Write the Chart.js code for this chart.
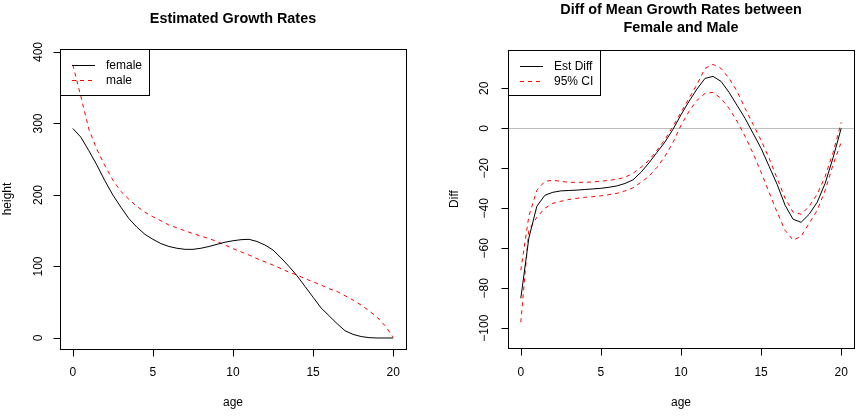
<!DOCTYPE html>
<html>
<head>
<meta charset="utf-8">
<script src="https://cdn.jsdelivr.net/npm/chart.js@4/dist/chart.umd.min.js"></script>
<style>
  body { margin: 0; background: #fff; }
  .wrap { position: relative; width: 864px; height: 420px; }
  canvas { position: absolute; top: 0; }
</style>
</head>
<body>
<div class="wrap">
  <canvas id="left" width="432" height="420" style="left:0"></canvas>
  <canvas id="right" width="432" height="420" style="left:432px"></canvas>
</div>
<script>
// ages on the evaluation grid
var ages = [0,0.5,1,1.5,2,2.5,3,3.5,4,4.5,5,5.5,6,6.5,7,7.5,8,8.5,9,9.5,10,
            10.5,11,11.5,12,12.5,13,13.5,14,14.5,15,15.5,16,16.5,17,17.5,18,18.5,19,19.5,20];

// left panel: estimated growth rates
var female = [293,281,262,242,220,200,183,167,155,145,138,132,128,125.5,124,124,125.5,128,131,134,136,
              137.5,138,135,130,123,112,100,87,72,57,42,31,20,10,5,2,0.5,0,0,0];
var male = [382,338,292,264,241,221,205,194,184,176,169.5,164,158,154,150,146,142.5,139,135,130,125,
            120.5,116,111,106.5,102,97,92,88,83,78.5,74,69,65,59,53,46,38,29,17,1];

// right panel: difference female - male with 95% CI
var estDiff = [-85,-55,-39,-33.5,-32,-31.3,-31.1,-30.9,-30.6,-30.3,-30,-29.5,-28.8,-27.6,-25.8,-22,-17.3,-12,-6.8,-0.5,6.8,
               13.5,19.7,25,26,23.5,18,11.5,5,-2.5,-10,-19,-28,-38.5,-45.5,-47,-43,-37,-27.5,-14.5,0];
var ciUpper = [-71,-44,-31,-26.5,-26,-26.5,-27,-27,-27,-26.8,-26.5,-26,-25.5,-24.5,-22.5,-19.5,-16,-11,-5.5,1,8,
               15,22,30,32,30,25,18.5,10,2,-6,-15,-25,-35,-42,-43,-39,-33,-24,-12,3];
var ciLower = [-97,-51,-44.5,-40,-37.5,-36.5,-35.6,-35,-34.5,-34.2,-33.8,-33.2,-32.5,-31.3,-29.8,-27,-24,-19.5,-14,-7,1.5,
               8.5,14,17.5,18,15,10,3.5,-4,-12.5,-22,-32,-42,-51,-56,-54,-47.5,-41,-31,-18,-7];

var xTicks = [0, 5, 10, 15, 20];
var leftYTicks = [0, 100, 200, 300, 400];
var rightYTicks = [-100, -80, -60, -40, -20, 0, 20];

var FONT = '"Liberation Sans", Arial, sans-serif';
var RED = '#ff0000';
var DASH = [4, 4];

function pts(ys) {
  return ages.map(function(a, i) { return {x: a, y: ys[i]}; });
}

function fmt(v) {
  return v < 0 ? '\u2212' + Math.abs(v) : String(v);
}

// draws the R-style frame, axes, titles and legend
function rStyle(cfg) {
  return {
    id: 'rstyle',
    beforeDatasetsDraw: function(chart) {
      if (!cfg.zeroLine) return;
      var ctx = chart.ctx, a = chart.chartArea;
      var y = chart.scales.y.getPixelForValue(0);
      ctx.save();
      ctx.strokeStyle = '#bebebe';
      ctx.lineWidth = 1;
      ctx.beginPath();
      ctx.moveTo(a.left, Math.round(y) + 0.5);
      ctx.lineTo(a.right, Math.round(y) + 0.5);
      ctx.stroke();
      ctx.restore();
    },
    afterDraw: function(chart) {
      var ctx = chart.ctx, a = chart.chartArea;
      var xs = chart.scales.x, ys = chart.scales.y;
      ctx.save();
      ctx.strokeStyle = '#000';
      ctx.fillStyle = '#000';
      ctx.lineWidth = 1;
      // box
      ctx.strokeRect(Math.round(a.left) + 0.5, Math.round(a.top) + 0.5,
                     Math.round(a.right - a.left), Math.round(a.bottom - a.top));

      ctx.font = '12px ' + FONT;
      // x axis
      var bx = Math.round(a.bottom) + 0.5;
      ctx.beginPath();
      ctx.moveTo(xs.getPixelForValue(xTicks[0]), bx);
      ctx.lineTo(xs.getPixelForValue(xTicks[xTicks.length - 1]), bx);
      xTicks.forEach(function(t) {
        var px = Math.round(xs.getPixelForValue(t)) + 0.5;
        ctx.moveTo(px, bx);
        ctx.lineTo(px, bx + 7);
      });
      ctx.stroke();
      ctx.textAlign = 'center';
      ctx.textBaseline = 'middle';
      xTicks.forEach(function(t) {
        ctx.fillText(fmt(t), xs.getPixelForValue(t), 373);
      });
      ctx.fillText('age', (a.left + a.right) / 2, 403);

      // y axis
      var lx = Math.round(a.left) + 0.5;
      var yt = cfg.yTicks;
      ctx.beginPath();
      ctx.moveTo(lx, ys.getPixelForValue(yt[0]));
      ctx.lineTo(lx, ys.getPixelForValue(yt[yt.length - 1]));
      yt.forEach(function(t) {
        var py = Math.round(ys.getPixelForValue(t)) + 0.5;
        ctx.moveTo(lx, py);
        ctx.lineTo(lx - 7, py);
      });
      ctx.stroke();
      yt.forEach(function(t) {
        ctx.save();
        ctx.translate(cfg.yLabelX, ys.getPixelForValue(t));
        ctx.rotate(-Math.PI / 2);
        ctx.fillText(fmt(t), 0, 0);
        ctx.restore();
      });
      ctx.save();
      ctx.translate(cfg.yTitleX, (a.top + a.bottom) / 2);
      ctx.rotate(-Math.PI / 2);
      ctx.fillText(cfg.yTitle, 0, 0);
      ctx.restore();

      // title
      ctx.font = 'bold 14.4px ' + FONT;
      cfg.title.forEach(function(line, i) {
        ctx.fillText(line, (a.left + a.right) / 2, cfg.titleY + i * 18);
      });

      // legend in top-left corner
      var lg = cfg.legend;
      ctx.strokeRect(lx, Math.round(a.top) + 0.5, lg.w, lg.h);
      ctx.font = '12px ' + FONT;
      ctx.textAlign = 'left';
      chart.data.datasets.forEach(function(ds, i) {
        if (ds.noLegend) return;
        var y = Math.round(a.top + 16 + i * 15) + 0.5;
        ctx.save();
        ctx.strokeStyle = ds.borderColor;
        ctx.setLineDash(ds.borderDash || []);
        ctx.beginPath();
        ctx.moveTo(a.left + 12, y);
        ctx.lineTo(a.left + 35, y);
        ctx.stroke();
        ctx.restore();
        ctx.fillText(ds.label, a.left + 46, y);
      });
      ctx.restore();
    }
  };
}

function baseOptions(pad, yMin, yMax) {
  return {
    responsive: false,
    animation: false,
    layout: { padding: pad },
    elements: { line: { tension: 0, borderWidth: 1 }, point: { radius: 0 } },
    plugins: { legend: { display: false }, title: { display: false }, tooltip: { enabled: false } },
    scales: {
      x: { type: 'linear', min: -0.8, max: 20.8, display: false },
      y: { type: 'linear', min: yMin, max: yMax, display: false }
    }
  };
}

var white = {
  id: 'white',
  beforeDraw: function(chart) {
    var ctx = chart.ctx;
    ctx.save();
    ctx.fillStyle = '#fff';
    ctx.fillRect(0, 0, chart.width, chart.height);
    ctx.restore();
  }
};

new Chart(document.getElementById('left'), {
  type: 'line',
  data: {
    datasets: [
      { label: 'female', data: pts(female), borderColor: '#000', fill: false },
      { label: 'male', data: pts(male), borderColor: RED, borderDash: DASH, fill: false }
    ]
  },
  options: baseOptions({ left: 60, right: 26, top: 49, bottom: 71 }, -15.4, 404.2),
  plugins: [white, rStyle({
    title: ['Estimated Growth Rates'], titleY: 19,
    yTicks: leftYTicks, yTitle: 'height', yLabelX: 39, yTitleX: 8,
    legend: { w: 89, h: 46 }, zeroLine: false
  })]
});

new Chart(document.getElementById('right'), {
  type: 'line',
  data: {
    datasets: [
      { label: 'Est Diff', data: pts(estDiff), borderColor: '#000', fill: false },
      { label: '95% CI', data: pts(ciUpper), borderColor: RED, borderDash: DASH, fill: false },
      { label: '95% CI lower', noLegend: true, data: pts(ciLower), borderColor: RED, borderDash: DASH, fill: false }
    ]
  },
  options: baseOptions({ left: 76, right: 10, top: 50, bottom: 72 }, -109.9, 39.2),
  plugins: [white, rStyle({
    title: ['Diff of Mean Growth Rates between', 'Female and Male'], titleY: 10,
    yTicks: rightYTicks, yTitle: 'Diff', yLabelX: 53, yTitleX: 23,
    legend: { w: 92, h: 45 }, zeroLine: true
  })]
});
</script>
</body>
</html>
